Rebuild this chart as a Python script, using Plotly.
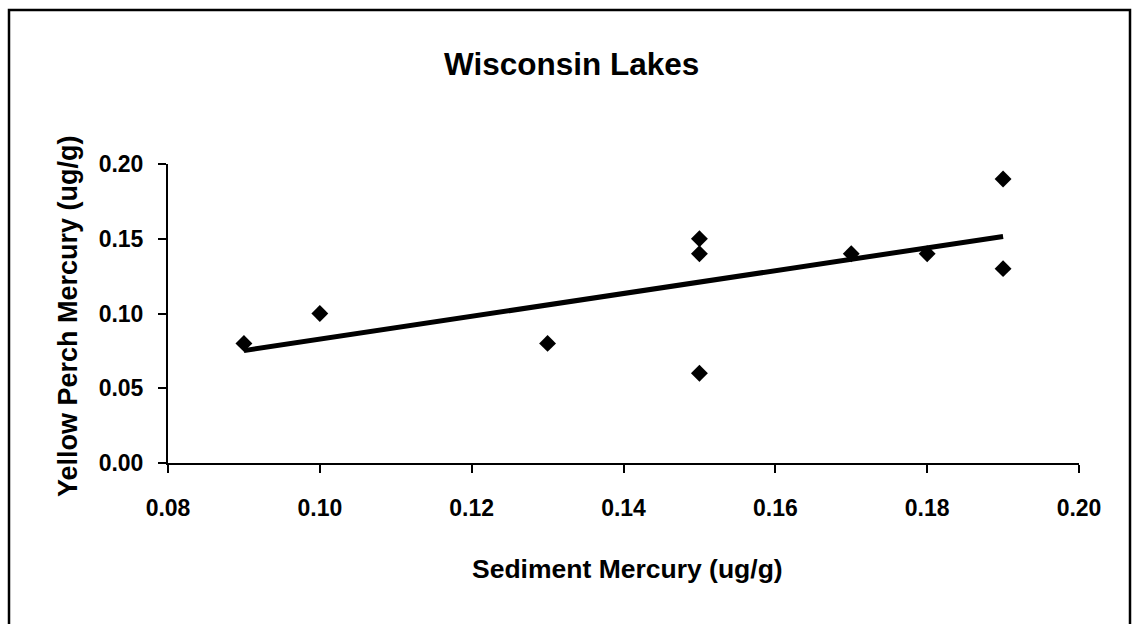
import numpy as np
import plotly.graph_objects as go

# Sediment vs. yellow perch mercury concentrations (ug/g)
sediment_hg = [0.09, 0.10, 0.13, 0.15, 0.15, 0.15, 0.17, 0.18, 0.19, 0.19]
perch_hg = [0.08, 0.10, 0.08, 0.15, 0.14, 0.06, 0.14, 0.14, 0.19, 0.13]

x_ticks = [0.08, 0.10, 0.12, 0.14, 0.16, 0.18, 0.20]
y_ticks = [0.00, 0.05, 0.10, 0.15, 0.20]

W, H = 1134, 624
L, R, T, B = 168, 55, 164, 161
PW, PH = W - L - R, H - T - B

FONT = "Liberation Sans, Arial, sans-serif"


def px_x(px):
    return (px - L) / PW


def px_y(py):
    return (H - B - py) / PH


# least-squares linear trendline
slope, intercept = np.polyfit(sediment_hg, perch_hg, 1)
trend_x = [min(sediment_hg), max(sediment_hg)]
trend_y = [slope * v + intercept for v in trend_x]

fig = go.Figure()
fig.add_trace(go.Scatter(
    x=sediment_hg, y=perch_hg, mode="markers",
    marker=dict(symbol="diamond", size=13, color="black", line=dict(width=0)),
    showlegend=False, cliponaxis=False,
))
fig.add_trace(go.Scatter(
    x=trend_x, y=trend_y, mode="lines",
    line=dict(color="black", width=5),
    showlegend=False, cliponaxis=False,
))

axis_common = dict(
    showgrid=False, zeroline=False, showline=True, linecolor="black",
    linewidth=2, ticks="outside", ticklen=8, tickwidth=2, tickcolor="black",
    tickfont=dict(family=FONT, size=23, color="black", weight="bold"),
    tickformat=".2f", mirror=False,
)

fig.update_xaxes(range=[0.08, 0.20], tickvals=x_ticks, ticklabelstandoff=15,
                 **axis_common)
fig.update_yaxes(range=[0.0, 0.20], tickvals=y_ticks, ticklabelstandoff=10,
                 **axis_common)

annotations = [
    dict(text="Wisconsin Lakes", x=px_x(571), y=px_y(64), xref="paper",
         yref="paper", showarrow=False, xanchor="center", yanchor="middle",
         font=dict(family=FONT, size=31.5, color="black", weight="bold")),
    dict(text="Sediment Mercury (ug/g)", x=px_x(627), y=px_y(569),
         xref="paper", yref="paper", showarrow=False, xanchor="center",
         yanchor="middle",
         font=dict(family=FONT, size=26.5, color="black", weight="bold")),
    dict(text="Yellow Perch Mercury (ug/g)", x=px_x(68), y=px_y(316),
         xref="paper", yref="paper", showarrow=False, xanchor="center",
         yanchor="middle", textangle=-90,
         font=dict(family=FONT, size=27, color="black", weight="bold")),
]

# outer chart frame
shapes = [
    dict(type="rect", xref="paper", yref="paper",
         x0=px_x(9), x1=px_x(1130), y0=px_y(10), y1=px_y(660),
         line=dict(color="black", width=2.5), fillcolor="rgba(0,0,0,0)",
         layer="above"),
]

fig.update_layout(
    width=W, height=H,
    margin=dict(l=L, r=R, t=T, b=B, pad=0),
    paper_bgcolor="white", plot_bgcolor="white",
    annotations=annotations, shapes=shapes,
    showlegend=False,
)

fig.write_html("out.html")
